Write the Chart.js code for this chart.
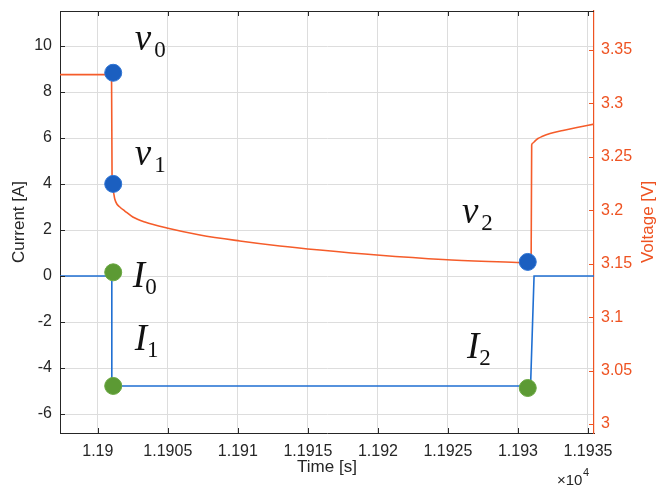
<!DOCTYPE html>
<html>
<head>
<meta charset="utf-8">
<script src="https://cdn.jsdelivr.net/npm/chart.js@4.4.1/dist/chart.umd.min.js"></script>
<style>
  html, body { margin: 0; padding: 0; background: #ffffff; }
  #wrap { width: 659px; height: 488px; }
</style>
</head>
<body>
<div id="wrap"><canvas id="c" width="659" height="488"></canvas></div>
<script>
// Voltage trace: time [s] and cell voltage [V]
const voltTime = [11897.3, 11900.98, 11901.02, 11901.11, 11901.21, 11901.36, 11901.57, 11901.93, 11902.5, 11903.36,
                  11904.93, 11907.29, 11910.14, 11913.0, 11915.86, 11919.93, 11924.64, 11929.93, 11930.94,
                  11930.98, 11931.07, 11931.21, 11931.43, 11931.71, 11932.29, 11933.21, 11934.21, 11935.43];
const voltage  = [3.327, 3.327, 3.2246, 3.2171, 3.2106, 3.2059, 3.2031, 3.1993, 3.1937, 3.189,
                  3.1834, 3.1769, 3.1713, 3.1666, 3.1628, 3.1581, 3.1539, 3.1511, 3.1505,
                  3.2611, 3.263, 3.2648, 3.2672, 3.269, 3.2719, 3.2747, 3.2775, 3.2807];

// Current trace: time [s] and current [A]
const currTime = [11897.3, 11901.0, 11901.0, 11930.9, 11931.15, 11935.43];
const current  = [0, 0, -4.78, -4.78, 0, 0];

// Sample points v0, v1, v2 (voltage axis) and I0, I1, I2 (current axis)
const vMarkTime = [11901.1, 11901.1, 11930.7];
const vMarkVal  = [3.3287, 3.2247, 3.1517];
const iMarkTime = [11901.1, 11901.1, 11930.7];
const iMarkVal  = [0.16, -4.78, -4.87];

// Annotation text, anchored in time / current units
const markSymbol = ['v', 'v', 'v', 'I', 'I', 'I'];
const markIndex  = ['0', '1', '2', '0', '1', '2'];
const labelTime    = [11902.64, 11902.64, 11926.0, 11902.5, 11902.64, 11926.36];
const labelCurrent = [9.83, 4.83, 2.30, -0.48, -3.22, -3.57];

// Axis ticks
const xTicks = [11900, 11905, 11910, 11915, 11920, 11925, 11930, 11935];
const xTickLabels = ['1.19', '1.1905', '1.191', '1.1915', '1.192', '1.1925', '1.193', '1.1935'];
const currentTicks = [-6, -4, -2, 0, 2, 4, 6, 8, 10];
const voltageTicks = [3, 3.05, 3.1, 3.15, 3.2, 3.25, 3.3, 3.35];
const voltageTickLabels = ['3', '3.05', '3.1', '3.15', '3.2', '3.25', '3.3', '3.35'];

const INK = '#262626';
const ORANGE = '#ee5322';
const VOLT_LINE = '#f55c2a';
const CURR_LINE = '#1f6fd2';
const BLUE_DOT = '#1b5fc0';
const GREEN_DOT = '#5c9a34';
const GRID = '#dddddd';
const SANS = "'Liberation Sans', Arial, sans-serif";
const SERIF = "'Liberation Serif', 'Times New Roman', serif";

const pairs = (xs, ys) => xs.map((x, i) => ({ x: x, y: ys[i] }));

// Inward tick marks, top frame line, voltage title, exponent note and point annotations
const decorations = {
  id: 'decorations',
  afterDraw(chart) {
    const { ctx, chartArea: a, scales } = chart;
    const sx = scales.x, sy = scales.y, sv = scales.y1;
    ctx.save();
    ctx.lineWidth = 1;
    ctx.strokeStyle = INK;
    ctx.beginPath();
    ctx.moveTo(a.left, a.top + 0.5);
    ctx.lineTo(a.right, a.top + 0.5);
    xTicks.forEach(v => {
      const px = Math.round(sx.getPixelForValue(v)) + 0.5;
      ctx.moveTo(px, a.bottom); ctx.lineTo(px, a.bottom - 5);
      ctx.moveTo(px, a.top); ctx.lineTo(px, a.top + 5);
    });
    currentTicks.forEach(v => {
      const py = Math.round(sy.getPixelForValue(v)) + 0.5;
      ctx.moveTo(a.left, py); ctx.lineTo(a.left + 5, py);
    });
    ctx.stroke();
    ctx.strokeStyle = ORANGE;
    ctx.beginPath();
    voltageTicks.forEach(v => {
      const py = Math.round(sv.getPixelForValue(v)) + 0.5;
      ctx.moveTo(a.right, py); ctx.lineTo(a.right - 5, py);
    });
    ctx.stroke();

    // Voltage axis title, reading bottom to top
    ctx.save();
    ctx.translate(648, (a.top + a.bottom) / 2);
    ctx.rotate(-Math.PI / 2);
    ctx.fillStyle = ORANGE;
    ctx.font = '17px ' + SANS;
    ctx.textAlign = 'center';
    ctx.textBaseline = 'middle';
    ctx.fillText('Voltage [V]', 0, 0);
    ctx.restore();

    // ×10^4 multiplier under the time axis
    const base = '\u00d710';
    const bx = a.right - 37, by = 485;
    ctx.fillStyle = INK;
    ctx.textBaseline = 'alphabetic';
    ctx.textAlign = 'left';
    ctx.font = '15px ' + SANS;
    ctx.fillText(base, bx, by);
    const w = ctx.measureText(base).width;
    ctx.font = '11px ' + SANS;
    ctx.fillText('4', bx + w + 0.5, by - 9);

    // v0..v2, I0..I2 annotations
    ctx.fillStyle = '#111111';
    markSymbol.forEach((s, i) => {
      const px = sx.getPixelForValue(labelTime[i]);
      const py = sy.getPixelForValue(labelCurrent[i]);
      ctx.font = 'italic 37px ' + SERIF;
      ctx.fillText(s, px, py);
      const sw = ctx.measureText(s).width;
      ctx.font = '23px ' + SERIF;
      ctx.fillText(markIndex[i], px + sw + (s === 'v' ? 3 : 0), py + 7);
    });
    ctx.restore();
  }
};

new Chart(document.getElementById('c'), {
  type: 'scatter',
  data: {
    datasets: [
      {
        label: 'v samples',
        data: pairs(vMarkTime, vMarkVal),
        yAxisID: 'y1',
        pointRadius: 8.5,
        pointHoverRadius: 8.5,
        pointBackgroundColor: BLUE_DOT,
        pointBorderColor: '#2f74d4',
        pointBorderWidth: 1,
        showLine: false,
        order: 0
      },
      {
        label: 'I samples',
        data: pairs(iMarkTime, iMarkVal),
        yAxisID: 'y',
        pointRadius: 8.5,
        pointHoverRadius: 8.5,
        pointBackgroundColor: GREEN_DOT,
        pointBorderColor: '#6aa842',
        pointBorderWidth: 1,
        showLine: false,
        order: 0
      },
      {
        label: 'Voltage',
        data: pairs(voltTime, voltage),
        yAxisID: 'y1',
        showLine: true,
        borderColor: VOLT_LINE,
        borderWidth: 1.6,
        pointRadius: 0,
        cubicInterpolationMode: 'monotone',
        order: 2
      },
      {
        label: 'Current',
        data: pairs(currTime, current),
        yAxisID: 'y',
        showLine: true,
        borderColor: CURR_LINE,
        borderWidth: 1.6,
        pointRadius: 0,
        tension: 0,
        order: 1
      }
    ]
  },
  options: {
    responsive: false,
    animation: false,
    events: [],
    layout: { padding: { top: 11, left: 0, right: 0, bottom: 0 }, autoPadding: false },
    plugins: { legend: { display: false }, tooltip: { enabled: false } },
    scales: {
      x: {
        type: 'linear',
        position: 'bottom',
        min: 11897.3,
        max: 11935.43,
        afterBuildTicks: s => { s.ticks = xTicks.map(v => ({ value: v })); },
        afterFit: s => { s.height = 55; s.paddingLeft = 0; s.paddingRight = 0; },
        ticks: {
          callback: (v, i) => xTickLabels[i],
          font: { size: 16, family: SANS },
          color: INK,
          padding: 9,
          maxRotation: 0,
          minRotation: 0,
          autoSkip: false
        },
        grid: { color: GRID, drawTicks: false },
        border: { color: INK, width: 1 },
        title: {
          display: true,
          text: 'Time [s]',
          font: { size: 17, family: SANS },
          color: INK,
          padding: { top: 0, bottom: 10 }
        }
      },
      y: {
        type: 'linear',
        position: 'left',
        min: -6.826,
        max: 11.522,
        afterBuildTicks: s => { s.ticks = currentTicks.map(v => ({ value: v })); },
        afterFit: s => { s.width = 60; s.paddingTop = 0; s.paddingBottom = 0; },
        ticks: {
          callback: v => String(v),
          font: { size: 16, family: SANS },
          color: INK,
          padding: 8,
          autoSkip: false
        },
        grid: { color: GRID, drawTicks: false },
        border: { color: INK, width: 1 },
        title: {
          display: true,
          text: 'Current [A]',
          font: { size: 17, family: SANS },
          color: INK,
          padding: { top: 9, bottom: 0 }
        }
      },
      y1: {
        type: 'linear',
        position: 'right',
        min: 2.9916,
        max: 3.3865,
        afterBuildTicks: s => { s.ticks = voltageTicks.map(v => ({ value: v })); },
        afterFit: s => { s.width = 65; s.paddingTop = 0; s.paddingBottom = 0; },
        ticks: {
          callback: (v, i) => voltageTickLabels[i],
          font: { size: 16, family: SANS },
          color: ORANGE,
          padding: 7,
          autoSkip: false
        },
        grid: { drawOnChartArea: false, drawTicks: false },
        border: { color: ORANGE, width: 1.2 }
      }
    }
  },
  plugins: [decorations]
});
</script>
</body>
</html>
